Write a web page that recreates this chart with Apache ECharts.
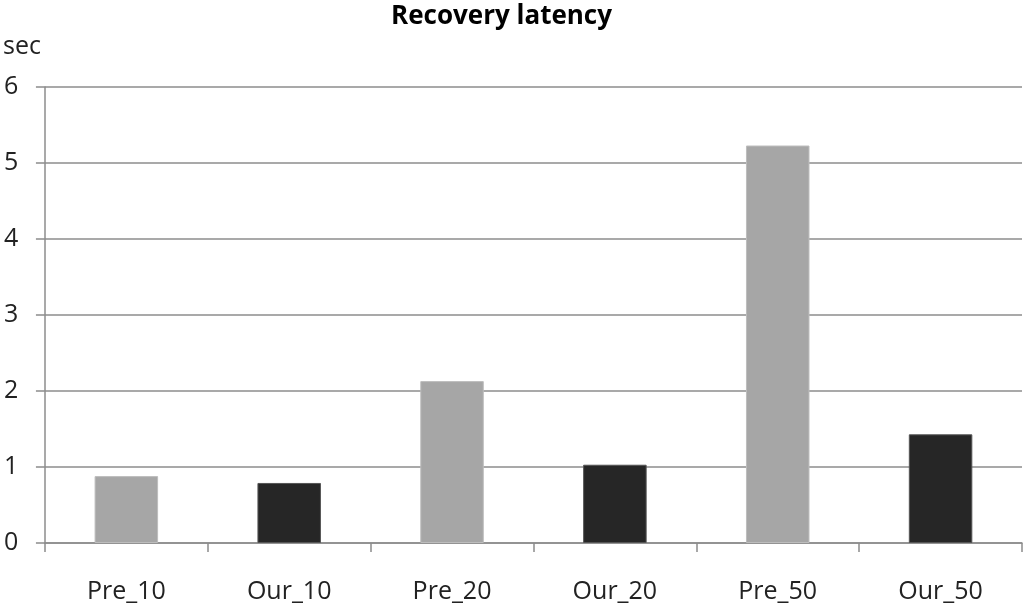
<!DOCTYPE html>
<html><head><meta charset="utf-8">
<script src="https://cdn.jsdelivr.net/npm/echarts@6/dist/echarts.min.js"></script>
<style>html,body{margin:0;padding:0;background:#fff}#c{width:1024px;height:606px}</style>
</head><body><div id="c"></div>
<script>
const categories = ["Pre_10","Our_10","Pre_20","Our_20","Pre_50","Our_50"];
const latency = [0.88, 0.79, 2.13, 1.03, 5.23, 1.43];
const yTicks = [0,1,2,3,4,5,6];
const font = "'Open Sans', 'Liberation Sans', sans-serif";
const chart = echarts.init(document.getElementById('c'));
chart.setOption({
  animation:false,
  backgroundColor:'#fff',
  title:{text:'Recovery latency',left:386,top:-1,textStyle:{fontFamily:font,fontWeight:'bold',fontSize:26,color:'#000'}},
  grid:{left:44,right:2,top:87,bottom:63},
  xAxis:{type:'category',data:categories,
    axisLine:{lineStyle:{color:'#8c8c8c',width:1.5}},
    axisTick:{show:true,length:9,alignWithLabel:false,lineStyle:{color:'#8c8c8c',width:1.5}},
    axisLabel:{fontFamily:font,fontSize:25,color:'#222',margin:36}},
  yAxis:{type:'value',min:yTicks[0],max:yTicks[yTicks.length-1],interval:1,
    name:'sec',nameLocation:'end',nameGap:28,
    nameTextStyle:{fontFamily:font,fontSize:25,color:'#222',align:'right',padding:[0,4,0,0]},
    axisLine:{show:true,lineStyle:{color:'#8c8c8c',width:1.5}},
    axisTick:{show:true,length:9,lineStyle:{color:'#8c8c8c',width:1.5}},
    splitLine:{lineStyle:{color:'#8c8c8c',width:1.5}},
    axisLabel:{fontFamily:font,fontSize:25,color:'#222',margin:41,align:'left',
      formatter:v=>String(v)}},
  series:[{type:'bar',barWidth:'39%',
    data:latency.map((v,i)=>({value:v,itemStyle:{color:i%2===0?'#a6a6a6':'#262626',borderColor:i%2===0?'#bdbdbd':'#555',borderWidth:1}}))}]
});
</script></body></html>
